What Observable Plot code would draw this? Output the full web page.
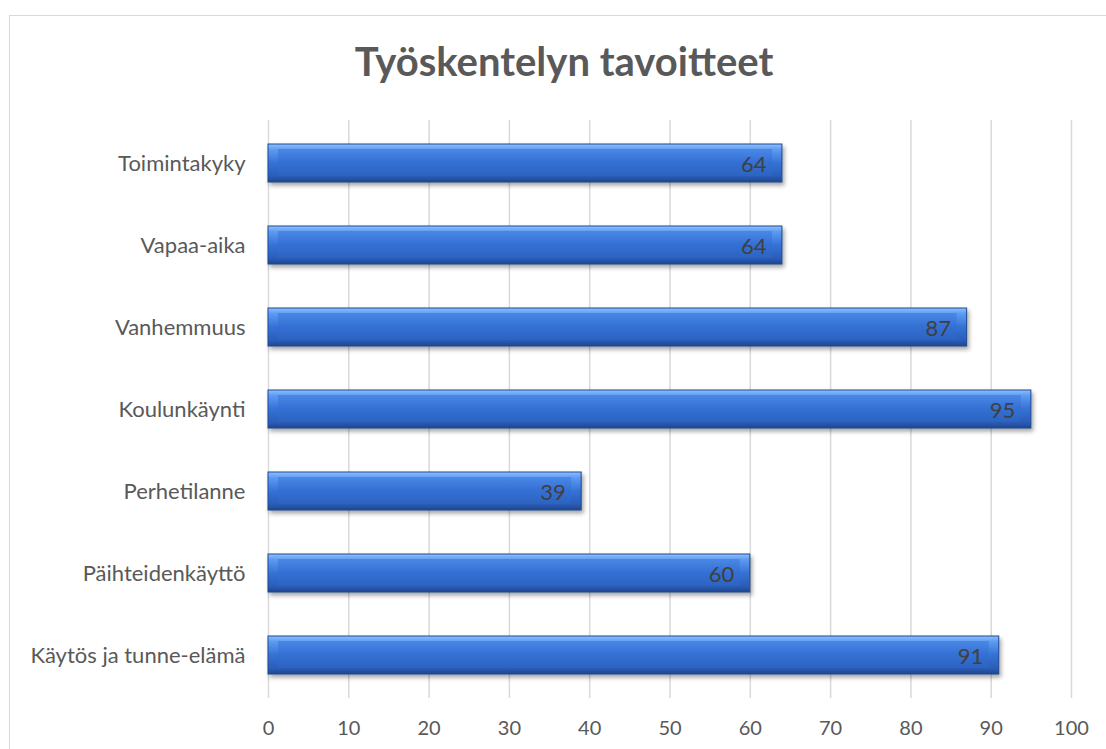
<!DOCTYPE html>
<html>
<head>
<meta charset="utf-8">
<script src="https://cdn.jsdelivr.net/npm/d3@7"></script>
<script src="https://cdn.jsdelivr.net/npm/@observablehq/plot@0.6"></script>
<style>
  html, body { margin: 0; padding: 0; background: #fff; overflow: hidden; width: 1106px; height: 749px; }
  #wrap { position: relative; width: 1106px; height: 749px; }
  #frame { position: absolute; left: 9px; top: 15px; width: 1110px; height: 800px; border: 1.5px solid #d9d9d9; pointer-events: none; }
  #title { height: 100px; line-height: 100px; padding-top: 11px; box-sizing: border-box; text-align: center; font-family: Lato, sans-serif; font-weight: bold; font-size: 40px; color: #595959; padding-left: 22px; white-space: nowrap; }
</style>
</head>
<body>
<div id="wrap">
  <div id="title">Työskentelyn tavoitteet</div>
  <div id="chart"></div>
  <div id="frame"></div>
</div>
<script>
const categories = ["Toimintakyky", "Vapaa-aika", "Vanhemmuus", "Koulunkäynti", "Perhetilanne", "Päihteidenkäyttö", "Käytös ja tunne-elämä"];
const values = [64, 64, 87, 95, 39, 60, 91];
const xTicks = [0, 10, 20, 30, 40, 50, 60, 70, 80, 90, 100];

const data = categories.map((c, i) => ({category: c, value: values[i]}));

const plot = Plot.plot({
  width: 1106,
  height: 649,
  marginTop: 20,
  marginBottom: 51,
  marginLeft: 268,
  marginRight: 35,
  style: {fontFamily: "Lato, sans-serif", fontSize: "20px", color: "#595959", background: "transparent"},
  x: {domain: [0, 100], ticks: xTicks, label: null, tickSize: 0, tickPadding: 22},
  y: {domain: categories, label: null, tickSize: 0, tickPadding: 23, paddingInner: 0.54, paddingOuter: 0.27},
  marks: [
    Plot.gridX(xTicks, {stroke: "#d9d9d9", strokeOpacity: 1, strokeWidth: 1.5}),
    Plot.axisX({ticks: xTicks, tickSize: 0, tickPadding: 22, fontSize: 20, label: null}),
    Plot.axisY({tickSize: 0, tickPadding: 23, fontSize: 22, label: null}),
    Plot.barX(data, {x: "value", y: "category", fill: "url(#outerGrad)", stroke: "#1d4a94", strokeWidth: 1}),
    Plot.barX(data, {x: "value", y: "category", fill: "url(#innerGrad)", insetTop: 5, insetBottom: 6, insetLeft: 10, insetRight: 10}),
    Plot.text(data, {x: "value", y: "category", text: d => String(d.value), textAnchor: "end", dx: -16, dy: 1, fill: "#404040", fontSize: 22})
  ]
});

const ns = "http://www.w3.org/2000/svg";
const defs = document.createElementNS(ns, "defs");
defs.innerHTML = `
  <linearGradient id="outerGrad" x1="0" y1="0" x2="0" y2="1">
    <stop offset="0" stop-color="#8fc0ff"/>
    <stop offset="0.15" stop-color="#5d9af0"/>
    <stop offset="0.5" stop-color="#3572d6"/>
    <stop offset="0.85" stop-color="#2a5db8"/>
    <stop offset="1" stop-color="#1d468e"/>
  </linearGradient>
  <linearGradient id="innerGrad" x1="0" y1="0" x2="0" y2="1">
    <stop offset="0" stop-color="#4a88e6"/>
    <stop offset="0.5" stop-color="#3470d4"/>
    <stop offset="1" stop-color="#2c63c0"/>
  </linearGradient>`;
plot.insertBefore(defs, plot.firstChild);
const bars = plot.querySelectorAll('g[aria-label="bar"]');
if (bars.length) bars[0].style.filter = "drop-shadow(2px 3px 2px rgba(0,0,0,0.35))";
document.getElementById("chart").appendChild(plot);
</script>
</body>
</html>
